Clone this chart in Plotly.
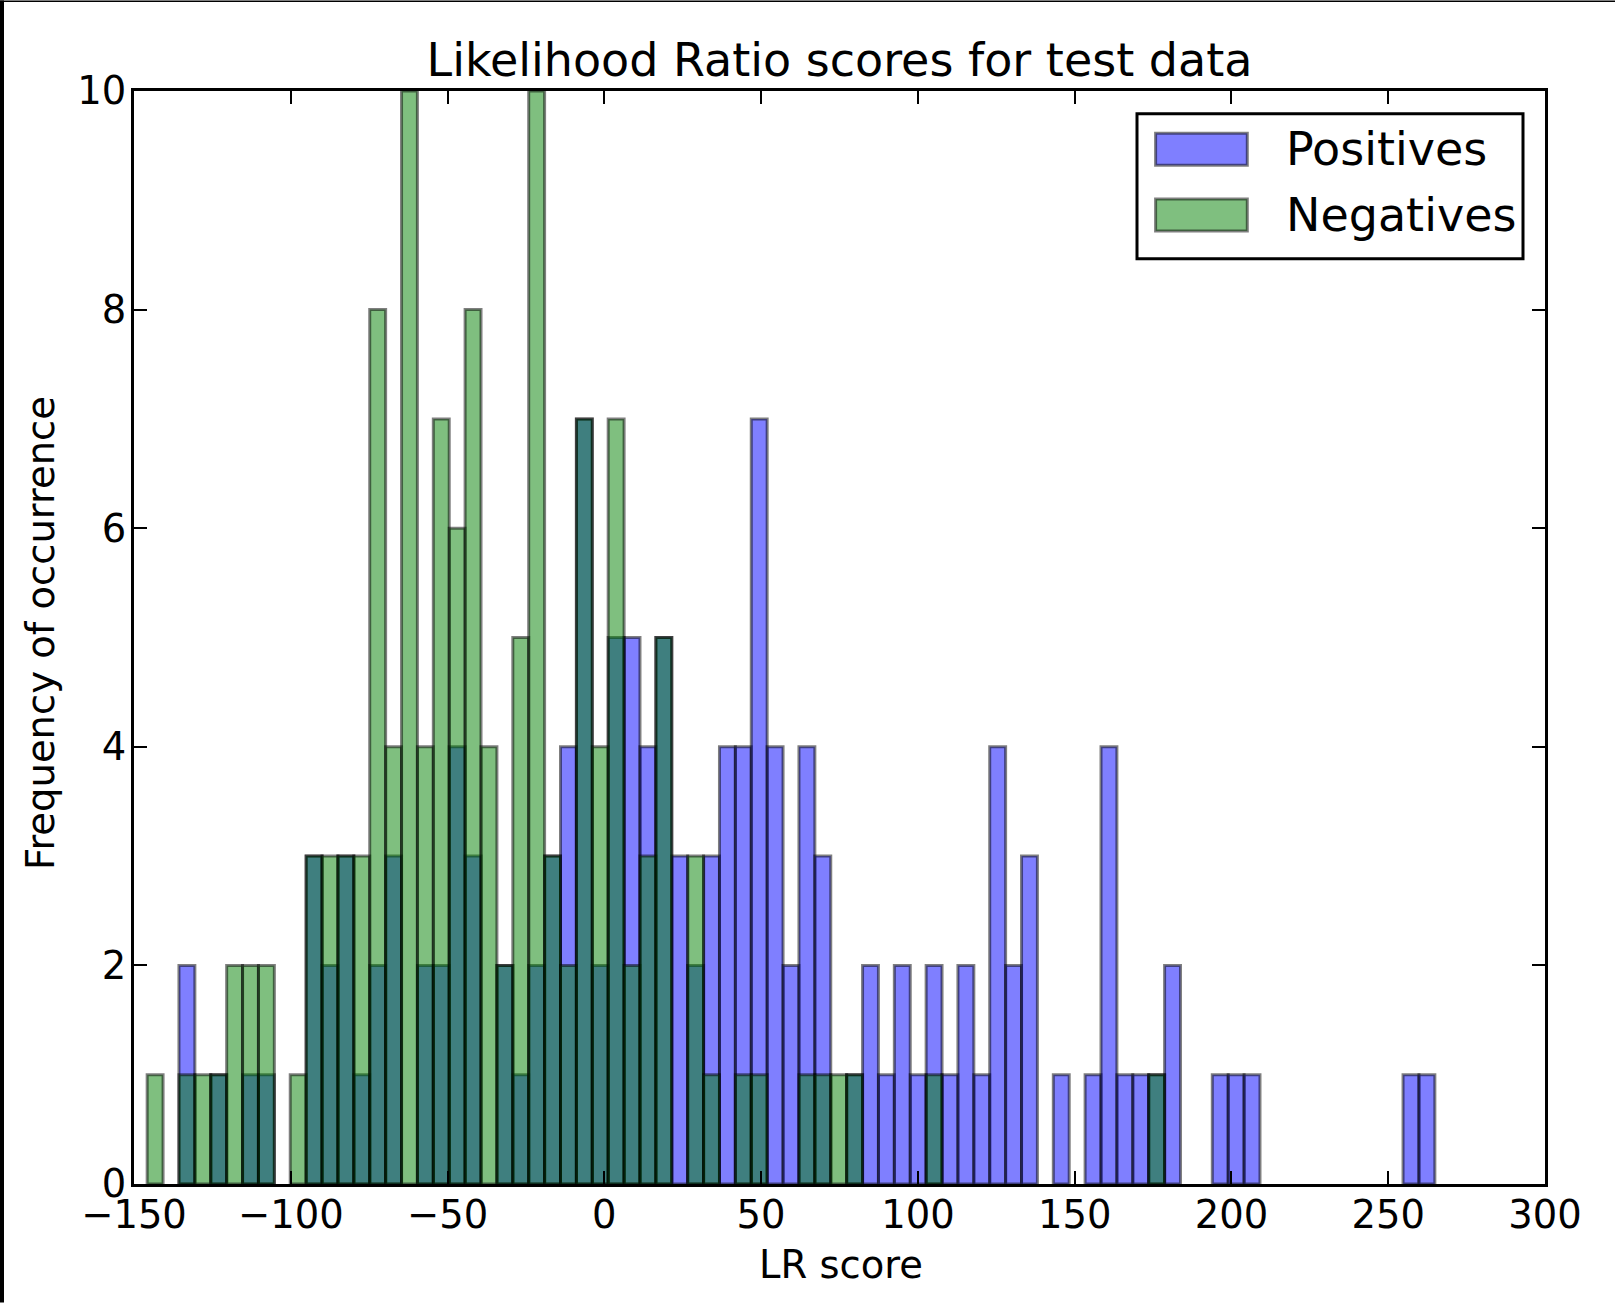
import numpy as np
import plotly.graph_objects as go

# ---- data ----
bin_start = -145.8
bin_end = 264.87
n_bins = 81
positives = [0, 0, 2, 0, 1, 0, 1, 1, 0, 0,
             3, 2, 3, 1, 2, 3, 0, 2, 2, 4,
             3, 0, 2, 1, 2, 3, 4, 7, 2, 5,
             5, 4, 5, 3, 2, 3, 4, 4, 7, 4,
             2, 4, 3, 0, 1, 2, 1, 2, 1, 2,
             1, 2, 1, 4, 2, 3, 0, 1, 0, 1,
             4, 1, 1, 1, 2, 0, 0, 1, 1, 1,
             0, 0, 0, 0, 0, 0, 0, 0, 0, 1, 1]
negatives = [1, 0, 1, 1, 1, 2, 2, 2, 0, 1,
             3, 3, 3, 3, 8, 4, 10, 4, 7, 6,
             8, 4, 2, 5, 10, 3, 2, 7, 4, 7,
             2, 3, 5, 0, 3, 1, 0, 1, 1, 0,
             0, 1, 1, 1, 1, 0, 0, 0, 0, 1,
             0, 0, 0, 0, 0, 0, 0, 0, 0, 0,
             0, 0, 0, 1, 0, 0, 0, 0, 0, 0,
             0, 0, 0, 0, 0, 0, 0, 0, 0, 0, 0]
x_ticks = [-150, -100, -50, 0, 50, 100, 150, 200, 250, 300]
y_ticks = [0, 2, 4, 6, 8, 10]
title = "Likelihood Ratio scores for test data"
x_label = "LR score"
y_label = "Frequency of occurrence"
series_names = ["Positives", "Negatives"]

edges = np.linspace(bin_start, bin_end, n_bins + 1)
centers = (edges[:-1] + edges[1:]) / 2
widths = np.diff(edges)

# ---- layout geometry (pixels) ----
W, H = 1615, 1303
L, R, T, B = 134, 1545, 90.6, 1184.5
pw, ph = R - L, B - T


def px(x):
    return (x - L) / pw


def py(y):
    return (B - y) / ph


FONT = "DejaVu Sans"
TICK_SIZE = 38.5
BIG_SIZE = 46
blue_fill = "rgba(0,0,255,0.5)"
green_fill = "rgba(0,128,0,0.5)"
edge = "rgba(0,0,0,0.5)"


def nz(vals):
    return [v if v > 0 else None for v in vals]


fig = go.Figure()
fig.add_trace(go.Bar(x=centers, y=nz(positives), width=widths, name=series_names[0],
                     marker=dict(color=blue_fill, line=dict(color=edge, width=3)),
                     showlegend=False))
fig.add_trace(go.Bar(x=centers, y=nz(negatives), width=widths, name=series_names[1],
                     marker=dict(color=green_fill, line=dict(color=edge, width=3)),
                     showlegend=False))

axis_common = dict(showgrid=False, zeroline=False, showline=True, linecolor="black",
                   linewidth=3, mirror="ticks", ticks="inside", ticklen=13,
                   tickwidth=1.5, tickcolor="black",
                   tickfont=dict(family=FONT, size=TICK_SIZE, color="black"))
fig.update_xaxes(range=[-150, 300], tickvals=x_ticks, ticklabelstandoff=-5, **axis_common)
fig.update_yaxes(range=[0, 10], tickvals=y_ticks, ticklabelstandoff=-3, **axis_common)

shapes = []
annotations = []
# manual legend (matplotlib-style)
shapes.append(dict(type="rect", xref="paper", yref="paper",
                   x0=px(1137), x1=px(1523), y0=py(258.5), y1=py(113.3),
                   line=dict(color="black", width=3), fillcolor="white", layer="above"))
legend_rows = [(series_names[0], blue_fill, 132.9, 164.8),
               (series_names[1], green_fill, 198.8, 230.7)]
for name, col, y0, y1 in legend_rows:
    shapes.append(dict(type="rect", xref="paper", yref="paper",
                       x0=px(1155.6), x1=px(1247.3), y0=py(y1), y1=py(y0),
                       line=dict(color=edge, width=3), fillcolor=col, layer="above"))
    annotations.append(dict(text=name, xref="paper", yref="paper",
                            x=px(1284), y=py((y0 + y1) / 2), xanchor="left", yanchor="middle",
                            showarrow=False, font=dict(family=FONT, size=BIG_SIZE, color="black")))
# frame edges of the original image
shapes.append(dict(type="rect", xref="paper", yref="paper",
                   x0=px(0), x1=px(4), y0=py(H), y1=py(0),
                   line=dict(width=0), fillcolor="black", layer="above"))
shapes.append(dict(type="rect", xref="paper", yref="paper",
                   x0=px(0), x1=px(W), y0=py(1.5), y1=py(0),
                   line=dict(width=0), fillcolor="black", layer="above"))

annotations.append(dict(text=x_label, xref="paper", yref="paper", x=px(840.5), y=py(1265),
                        xanchor="center", yanchor="middle", showarrow=False,
                        font=dict(family=FONT, size=TICK_SIZE, color="black")))
annotations.append(dict(text=y_label, xref="paper", yref="paper", x=px(41), y=py(633),
                        xanchor="center", yanchor="middle", textangle=-90, showarrow=False,
                        font=dict(family=FONT, size=TICK_SIZE, color="black")))

fig.update_layout(
    width=W, height=H,
    margin=dict(l=L, r=W - R, t=T, b=H - B, pad=0),
    barmode="overlay",
    paper_bgcolor="white", plot_bgcolor="white",
    title=dict(text=title, x=0.5, xref="paper", y=1 - 60 / H, yref="container",
               xanchor="center", yanchor="middle",
               font=dict(family=FONT, size=BIG_SIZE, color="black")),
    shapes=shapes, annotations=annotations,
    showlegend=False,
)

fig.write_html("out.html", config={"displayModeBar": False},
               post_script="document.body.style.margin='0';document.body.style.overflow='hidden';")
